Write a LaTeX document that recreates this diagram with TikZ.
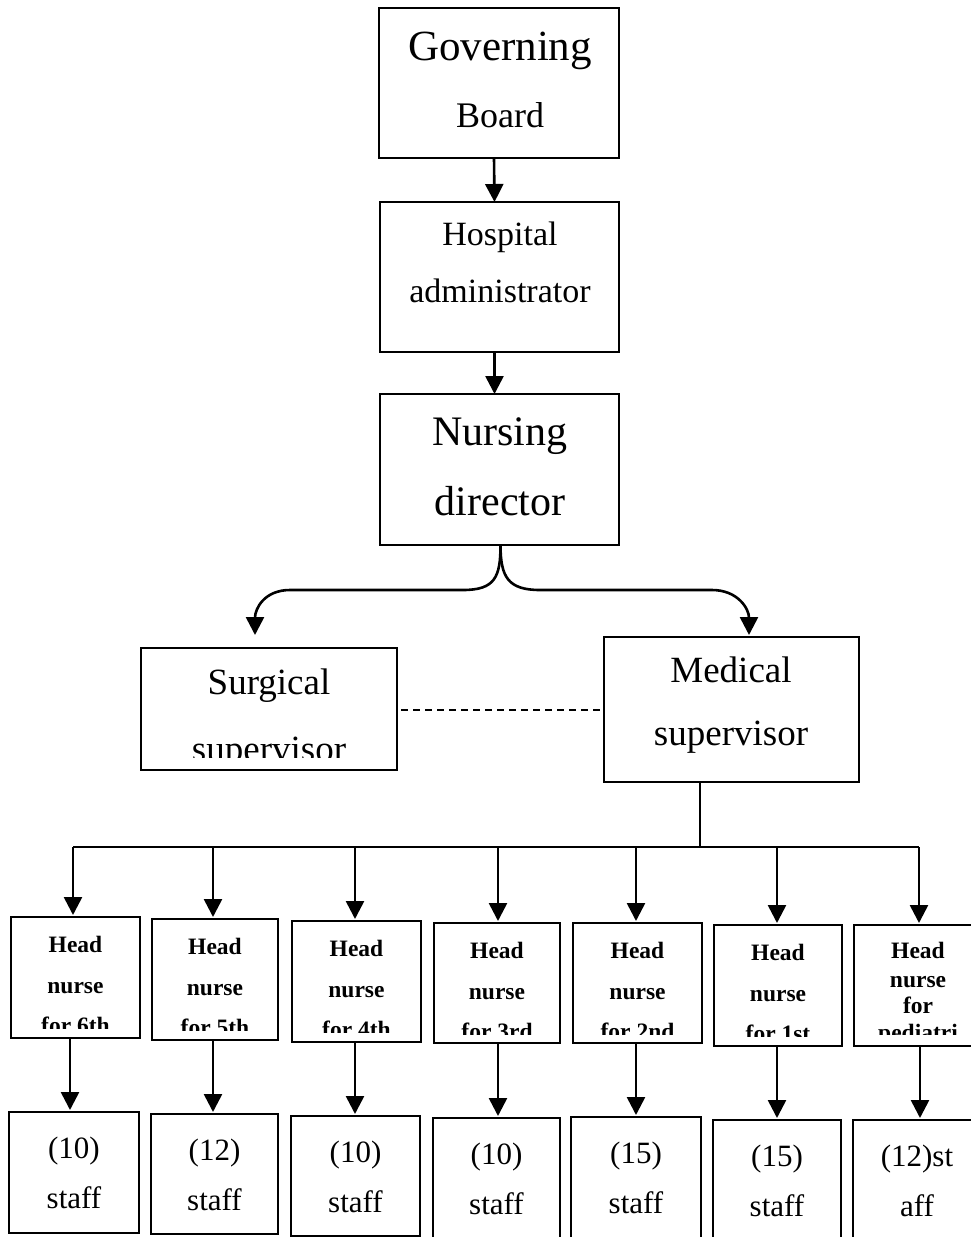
\documentclass[tikz,border=0pt]{standalone}
\usepackage{fontspec}
\setmainfont{Liberation Serif}
\usetikzlibrary{arrows.meta,calc}
\newcommand\fGov{\fontsize{43}{43}\selectfont}
\newcommand\fBoard{\fontsize{36}{36}\selectfont}
\newcommand\fHosp{\fontsize{34}{34}\selectfont}
\newcommand\fNurs{\fontsize{42}{42}\selectfont}
\newcommand\fSup{\fontsize{37}{37}\selectfont}
\newcommand\fHead{\fontsize{23.5}{23.5}\selectfont\bfseries}
\newcommand\fStaff{\fontsize{31}{31}\selectfont}
\newcommand\mkbox[5]{\node[box,minimum width={#4-#2},minimum height={#5-#3}] (#1) at (#2,#3) {};}
\begin{document}
\begin{tikzpicture}[x=1pt,y=-1pt,
  box/.style={draw,line width=2pt,inner sep=0pt,outer sep=0pt,anchor=north west},
  txt/.style={inner sep=0pt,anchor=base},
  arr/.style={line width=2.6pt,-{Triangle[length=18pt,width=18pt]}},
  ln/.style={line width=2.2pt}]
\clip (0,0) rectangle (971,1237);
% top chain
\mkbox{gb}{379}{8}{619}{158}
\node[txt,font=\fGov] (gb1) at (500,60) {Governing};
\node[txt,font=\fBoard] (gb2) at (500,127) {Board};
\mkbox{ha}{380}{202}{619}{352}
\node[txt,font=\fHosp] (ha1) at (500,245) {Hospital};
\node[txt,font=\fHosp] (ha2) at (500,302) {administrator};
\mkbox{nd}{380}{394}{619}{545}
\node[txt,font=\fNurs] (nd1) at (500,445) {Nursing};
\node[txt,font=\fNurs] (nd2) at (500,515) {director};
\draw[arr] ([xshift=-5pt]gb.south) -- ([xshift=-5pt]ha.north);
\draw[arr] ([xshift=-5pt]ha.south) -- ([xshift=-5pt]nd.north);
% supervisors
\mkbox{ss}{141}{648}{397}{770}
\begin{scope}
\clip (141,648) rectangle (397,757);
\node[txt,font=\fSup] (ss1) at (269,694) {Surgical};
\node[txt,font=\fSup] (ss2) at (269,761) {supervisor};
\end{scope}
\mkbox{ms}{604}{637}{859}{782}
\node[txt,font=\fSup] (ms1) at (731,682) {Medical};
\node[txt,font=\fSup] (ms2) at (731,745) {supervisor};
\coordinate (ssin) at (255,635);
\coordinate (msin) at (749,635);
\draw[arr] ([xshift=1pt]nd.south) .. controls +(0,32) and +(32,0) .. (463,590) -- (290,590) .. controls +(-26,0) and +(0,-26) .. (ssin);
\draw[arr] ([xshift=1pt]nd.south) .. controls +(0,32) and +(-32,0) .. (540,590) -- (712,590) .. controls +(26,0) and +(0,-26) .. (msin);
\coordinate (dsh) at (401,710);
\draw[ln,dash pattern=on 7pt off 5pt] (dsh) -- (dsh -| ms.west);
% head nurse boxes
\foreach \n/\xa/\ya/\xb/\yb/\t in {h6/11/917/140/1038/for 6th,h5/152/919/278/1040/for 5th,h4/292/921/421/1042/for 4th,h3/434/923/560/1043/for 3rd,h2/573/923/702/1043/for 2nd,h1/714/925/842/1046/for 1st}{
  \node[box,minimum width={\xb-\xa},minimum height={\yb-\ya}] (\n) at (\xa,\ya) {};
  \begin{scope}
  \clip (\xa,\ya) rectangle (\xb,\ya+111);
  \node[txt,font=\fHead] (\n-1) at ({(\xa+\xb)/2},\ya+35) {Head};
  \node[txt,font=\fHead] (\n-2) at ({(\xa+\xb)/2},\ya+76) {nurse};
  \node[txt,font=\fHead] (\n-3) at ({(\xa+\xb)/2},\ya+116) {\t};
  \end{scope}
}
\mkbox{hp}{854}{925}{983}{1046}
\begin{scope}
\clip (854,925) rectangle (983,1034);
\node[txt,font=\fHead] (hp-1) at (918,958) {Head};
\node[txt,font=\fHead] (hp-2) at (918,987) {nurse};
\node[txt,font=\fHead] (hp-3) at (918,1013) {for};
\node[txt,font=\fHead] (hp-4) at (918,1040) {pediatri};
\end{scope}
% staff boxes
\foreach \n/\xa/\ya/\xb/\yb/\num in {s6/9/1112/139/1233/10,s5/151/1114/278/1234/12,s4/291/1116/420/1236/10,s3/433/1118/560/1242/10,s2/571/1117/701/1242/15,s1/713/1120/841/1242/15}{
  \node[box,minimum width={\xb-\xa},minimum height={\yb-\ya}] (\n) at (\xa,\ya) {};
  \node[txt,font=\fStaff] (\n-1) at ({(\xa+\xb)/2},\ya+46) {(\num)};
  \node[txt,font=\fStaff] (\n-2) at ({(\xa+\xb)/2},\ya+96) {staff};
}
\mkbox{sp}{853}{1120}{983}{1242}
\node[txt,font=\fStaff] (sp-1) at (917,1166) {(12)st};
\node[txt,font=\fStaff] (sp-2) at (917,1216) {aff};
% bus and arrows
\coordinate (mdx) at (700,0);
\foreach \n/\bxx/\lxx in {6/73/70,5/213/213,4/355/355,3/498/498,2/636/636,1/777/777,p/919/920}{
  \coordinate (b\n) at (\bxx,847);
  \coordinate (l\n) at (\lxx,0);
  \draw[arr] (b\n) -- ([yshift=2pt]b\n |- h\n.north);
  \draw[arr] (h\n.south -| l\n) -- ([yshift=2pt]l\n |- s\n.north);
}
\draw[ln] (b6) -- (bp);
\draw[ln] (ms.south -| mdx) -- (b6 -| mdx);
\end{tikzpicture}
\end{document}
